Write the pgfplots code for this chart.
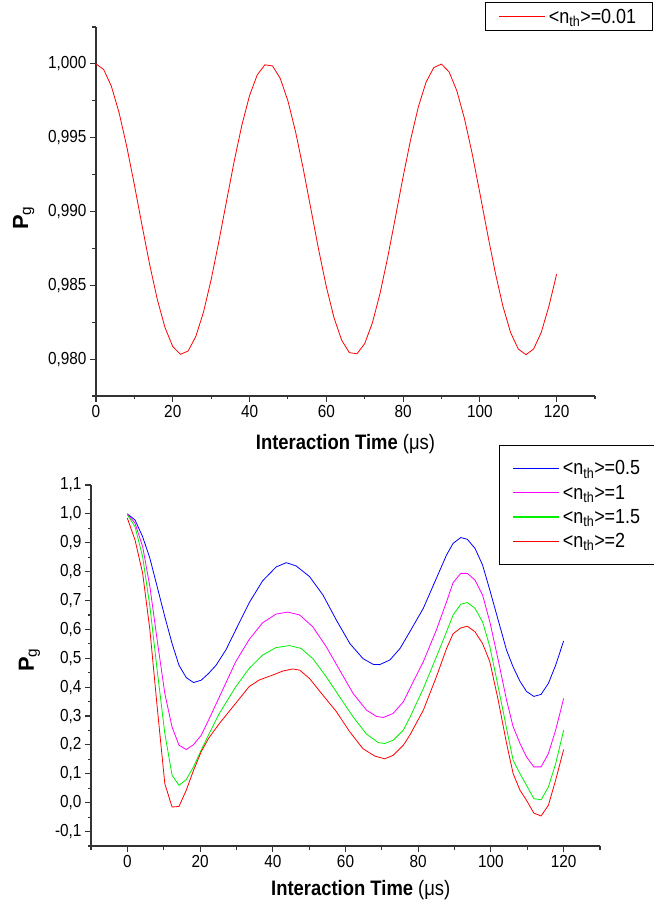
\documentclass[border=0pt]{standalone}
\usepackage{pgfplots}
\pgfplotsset{compat=1.18}
\usepackage{fontspec}
\setmainfont{Liberation Sans}[FakeStretch=0.88]
\newfontfamily\plainsans{Liberation Sans}
\definecolor{cblue}{RGB}{0,0,255}
\definecolor{cmag}{RGB}{255,0,255}
\definecolor{cgreen}{RGB}{0,240,0}
\definecolor{cred}{RGB}{255,0,0}
\pgfplotsset{
  myaxis/.style={
    scale only axis,
    axis x line*=bottom, axis y line*=left,
    axis line style={-, line width=1.3bp, black!80},
    tick align=outside,
    major tick length=6bp, minor tick length=3.5bp,
    every tick/.style={black!80, line width=1.1bp},
    tick label style={font=\fontsize{17.5}{19}\selectfont},
    /pgf/number format/assume math mode=true,
    /pgf/number format/use comma,
    xtick={0,20,...,120},
    xmax=130,
    legend cell align=left,
    legend image code/.code={\draw[##1, line width=1.25bp] (0bp,0bp) -- (46bp,0bp);},
    every axis plot/.append style={line width=0.8bp},
  }
}
\begin{document}
\begin{tikzpicture}
\path[use as bounding box] (0,0) rectangle (654bp,907bp);
% ---------------- top panel ----------------
\begin{axis}[myaxis,
  at={(96bp,511bp)}, anchor=south west,
  width=499bp, height=369bp,
  xmin=0, ymin=0.9775, ymax=1.0025,
  minor xtick={10,30,...,130},
  ytick={0.980,0.985,0.990,0.995,1.000},
  minor ytick={0.9775,0.9825,0.9875,0.9925,0.9975,1.0025},
  yticklabel style={/pgf/number format/.cd, fixed, fixed zerofill, precision=3},
  xlabel={\fontsize{21}{24}\selectfont\textbf{Interaction Time} (μs)},
  xlabel style={at={(axis description cs:0.5,-0.130)}, anchor=center},
  ylabel={\plainsans\fontsize{22}{24}\selectfont\textbf{P}\textsubscript{g}},
  ylabel style={at={(axis description cs:-0.145,0.482)}, anchor=center},
  legend style={at={(0.7796,0.989)}, anchor=south west, line width=1bp,
    inner xsep=13bp, inner ysep=4bp, font=\fontsize{20.5}{22}\selectfont,
    nodes={inner xsep=3bp, inner ysep=2bp}},
]
\addplot[color=cred] coordinates {
(0,1.00000)(2,0.99962)(4,0.99849)(6,0.99671)(8,0.99442)(10,0.99180)(12,0.98905)(14,0.98638)
(16,0.98401)(18,0.98212)(20,0.98085)(22,0.98032)(24,0.98055)(26,0.98153)(28,0.98318)(30,0.98539)
(32,0.98796)(34,0.99070)(36,0.99340)(38,0.99585)(40,0.99785)(42,0.99925)(44,0.99994)(46,0.99986)
(48,0.99902)(50,0.99749)(52,0.99539)(54,0.99288)(56,0.99015)(58,0.98742)(60,0.98491)(62,0.98281)
(64,0.98128)(66,0.98044)(68,0.98036)(70,0.98105)(72,0.98245)(74,0.98445)(76,0.98690)(78,0.98960)
(80,0.99234)(82,0.99491)(84,0.99711)(86,0.99877)(88,0.99975)(90,0.99999)(92,0.99945)(94,0.99818)
(96,0.99629)(98,0.99392)(100,0.99125)(102,0.98850)(104,0.98588)(106,0.98359)(108,0.98181)(110,0.98068)
(112,0.98030)(114,0.98068)(116,0.98181)(118,0.98359)(120,0.98575)
};
\addlegendentry{<n\textsubscript{th}>=0.01\hspace{30bp}}
\end{axis}
% ---------------- bottom panel ----------------
\begin{axis}[myaxis,
  at={(91bp,61bp)}, anchor=south west,
  width=509bp, height=361bp,
  xmin=-10, ymin=-0.15, ymax=1.1,
  minor xtick={-10,10,...,130},
  ytick={-0.1,0,0.1,0.2,0.3,0.4,0.5,0.6,0.7,0.8,0.9,1.0,1.1},
  minor ytick={-0.15,-0.05,0.05,0.15,0.25,0.35,0.45,0.55,0.65,0.75,0.85,0.95,1.05},
  yticklabel style={/pgf/number format/.cd, fixed, fixed zerofill, precision=1},
  xlabel={\fontsize{21}{24}\selectfont\textbf{Interaction Time} (μs)},
  xlabel style={at={(axis description cs:0.530,-0.122)}, anchor=center},
  ylabel={\plainsans\fontsize{22}{24}\selectfont\textbf{P}\textsubscript{g}},
  ylabel style={at={(axis description cs:-0.121,0.515)}, anchor=center},
  legend style={at={(0.8016,1.111)}, anchor=north west, line width=1bp,
    inner xsep=13bp, inner ysep=11bp, font=\fontsize{20.5}{22}\selectfont,
    nodes={inner xsep=3bp, inner ysep=4.3bp}},
]
\addplot[color=cblue] coordinates {
(0,1.000)(2.1,0.979)(4.2,0.921)(6.2,0.846)(8.2,0.748)(10.3,0.644)(12.3,0.551)(14.2,0.476)(16.2,0.433)(18.2,0.416)(20.3,0.424)(22.3,0.447)(24.4,0.476)(27.1,0.529)(29.8,0.598)(33.5,0.692)(37.2,0.768)(40.9,0.816)(43.7,0.831)(46.4,0.820)(50.1,0.783)(53.8,0.719)(57.5,0.632)(61.2,0.551)(64.8,0.499)(67.6,0.479)(69.4,0.478)(72.2,0.494)(75.0,0.534)(77.7,0.592)(81.4,0.673)(85.0,0.777)(87.8,0.858)(89.6,0.898)(91.7,0.918)(93.5,0.912)(95.6,0.881)(97.7,0.823)(99.7,0.736)(102.0,0.632)(104.3,0.528)(106.1,0.470)(108.0,0.420)(109.8,0.385)(111.8,0.368)(113.8,0.375)(115.8,0.413)(117.8,0.476)(120,0.560)
};
\addlegendentry{<n\textsubscript{th}>=0.5\hspace{20bp}}
\addplot[color=cmag] coordinates {
(0,1.000)(2.1,0.968)(4.2,0.887)(6.2,0.748)(8.2,0.563)(10.3,0.378)(12.3,0.262)(14.2,0.199)(16.2,0.184)(18.2,0.201)(20.3,0.233)(22.3,0.285)(25.3,0.366)(29.8,0.488)(33.5,0.565)(37.2,0.623)(40.9,0.653)(44.1,0.660)(47.4,0.650)(51.0,0.609)(54.7,0.540)(58.4,0.459)(62.1,0.378)(65.8,0.320)(68.5,0.299)(70.4,0.295)(73.1,0.309)(75.9,0.349)(77.7,0.395)(81.4,0.488)(85.0,0.598)(87.8,0.696)(89.6,0.762)(91.7,0.794)(93.5,0.794)(95.6,0.771)(97.7,0.719)(99.7,0.626)(102.0,0.494)(104.3,0.355)(106.1,0.263)(108.0,0.205)(109.8,0.158)(111.8,0.124)(113.8,0.124)(115.8,0.170)(117.8,0.251)(120,0.361)
};
\addlegendentry{<n\textsubscript{th}>=1}
\addplot[color=cgreen] coordinates {
(0,0.997)(2.1,0.956)(4.2,0.852)(6.2,0.679)(8.2,0.459)(10.3,0.240)(12.3,0.095)(14.2,0.060)(16.2,0.080)(18.2,0.124)(20.3,0.182)(22.3,0.234)(25.3,0.309)(29.8,0.401)(33.5,0.465)(37.2,0.511)(40.9,0.537)(44.6,0.544)(47.8,0.534)(51.0,0.499)(54.7,0.436)(58.4,0.366)(62.1,0.297)(65.8,0.237)(69.0,0.208)(70.8,0.205)(73.1,0.216)(75.9,0.251)(77.7,0.295)(81.4,0.395)(85.0,0.505)(87.8,0.592)(89.6,0.650)(91.7,0.687)(93.5,0.693)(95.6,0.673)(97.7,0.626)(99.7,0.540)(102.0,0.401)(104.3,0.257)(106.1,0.147)(108.0,0.100)(109.8,0.060)(111.8,0.014)(113.8,0.010)(115.8,0.054)(117.8,0.135)(120,0.251)
};
\addlegendentry{<n\textsubscript{th}>=1.5}
\addplot[color=cred] coordinates {
(0,0.985)(2.1,0.910)(4.2,0.795)(6.2,0.598)(8.2,0.332)(10.3,0.066)(12.3,-0.015)(14.2,-0.013)(16.2,0.043)(18.2,0.112)(20.3,0.176)(22.3,0.222)(25.3,0.274)(29.8,0.344)(33.5,0.402)(36.3,0.425)(40.0,0.442)(42.8,0.456)(45.5,0.463)(47.4,0.459)(50.1,0.430)(53.8,0.372)(57.5,0.315)(61.2,0.245)(64.8,0.187)(68.1,0.161)(70.8,0.152)(73.1,0.164)(75.9,0.199)(77.7,0.234)(81.4,0.320)(85.0,0.436)(87.8,0.534)(89.6,0.585)(91.7,0.605)(93.5,0.611)(95.6,0.592)(97.7,0.551)(99.7,0.488)(102.0,0.355)(104.3,0.205)(106.1,0.101)(108.0,0.043)(109.8,0.008)(111.8,-0.036)(113.8,-0.046)(115.8,-0.009)(117.8,0.078)(120,0.184)
};
\addlegendentry{<n\textsubscript{th}>=2}
\end{axis}
\end{tikzpicture}
\end{document}
